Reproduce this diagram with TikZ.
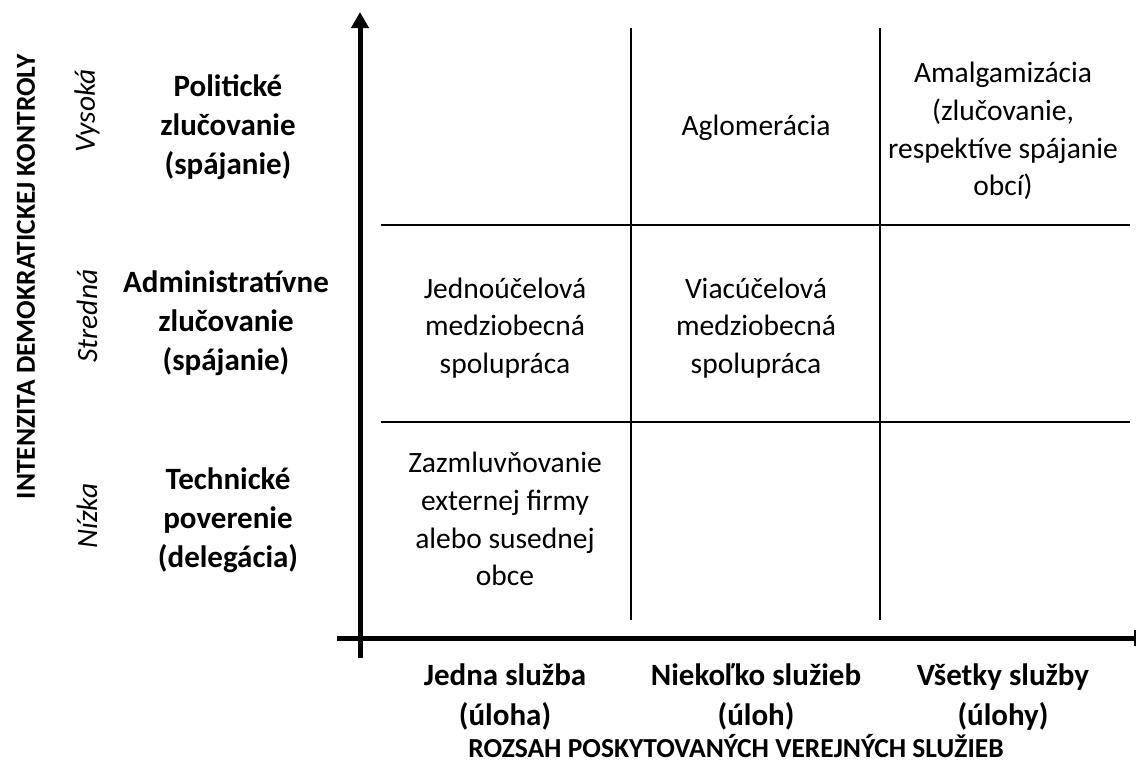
\documentclass[tikz,border=0pt]{standalone}
\usepackage{fontspec}
\setmainfont{Carlito}
\usetikzlibrary{arrows.meta}
\begin{document}
\begin{tikzpicture}[x=1pt,y=-1pt,
  cell/.style={align=center,font=\fontsize{29.5}{37.8}\selectfont},
  rowlab/.style={align=center,font=\fontsize{31}{39}\selectfont\bfseries},
  collab/.style={align=center,font=\fontsize{31}{40}\selectfont\bfseries},
  level/.style={rotate=90,font=\fontsize{29.5}{34}\selectfont\itshape},
  axtitle/.style={font=\fontsize{27.5}{32}\selectfont\bfseries},
  grid/.style={line width=2.5pt},
  axis/.style={line width=5pt}]
\useasboundingbox (0,0) rectangle (1137,782);
% axes
\coordinate (yb) at (360,658);
\coordinate (yt) at (360,12);
\coordinate (xl) at (337,638);
\coordinate (xr) at (1136,638);
\draw[axis,-{Triangle[width=17pt,length=16pt]}] (yb) -- (yt);
\draw[axis,-{Bar[width=16pt,line width=2.5pt]}] (xl) -- (xr);
% grid
\coordinate (h1l) at (381,225); \coordinate (h1r) at (1130,225);
\coordinate (h2l) at (381,422); \coordinate (h2r) at (1130,422);
\coordinate (v1t) at (631,28); \coordinate (v1b) at (631,620);
\coordinate (v2t) at (880,28); \coordinate (v2b) at (880,620);
\draw[grid] (h1l) -- (h1r);
\draw[grid] (h2l) -- (h2r);
\draw[grid] (v1t) -- (v1b);
\draw[grid] (v2t) -- (v2b);
% cells
\node[cell] (aglo) at (756,128) {Aglomerácia};
\node[cell] (amal) at (1003,131) {Amalgamizácia\\(zlučovanie,\\respektíve spájanie\\obcí)};
\node[cell] (jedn) at (505,328) {Jednoúčelová\\medziobecná\\spolupráca};
\node[cell] (viac) at (756,328) {Viacúčelová\\medziobecná\\spolupráca};
\node[cell] (zazm) at (505,519) {Zazmluvňovanie\\externej firmy\\alebo susednej\\obce};
% row labels
\node[rowlab] (pol) at (228,127) {Politické\\zlučovanie\\(spájanie)};
\node[rowlab] (adm) at (226,323) {Administratívne\\zlučovanie\\(spájanie)};
\node[rowlab] (tech) at (228,520) {Technické\\poverenie\\(delegácia)};
% levels
\node[level] (vys) at (87,111) {Vysoká};
\node[level] (str) at (87,316) {Stredná};
\node[level] (niz) at (87,516) {Nízka};
% column labels
\node[collab] (c1) at (505,697) {Jedna služba\\(úloha)};
\node[collab] (c2) at (756,697) {Niekoľko služieb\\(úloh)};
\node[collab] (c3) at (1003,697) {Všetky služby\\(úlohy)};
% axis titles
\node[axtitle] (xt) at (736,746) {ROZSAH POSKYTOVANÝCH VEREJNÝCH SLUŽIEB};
\node[axtitle,rotate=90] (ytt) at (26,277) {INTENZITA DEMOKRATICKEJ KONTROLY};
\end{tikzpicture}
\end{document}
